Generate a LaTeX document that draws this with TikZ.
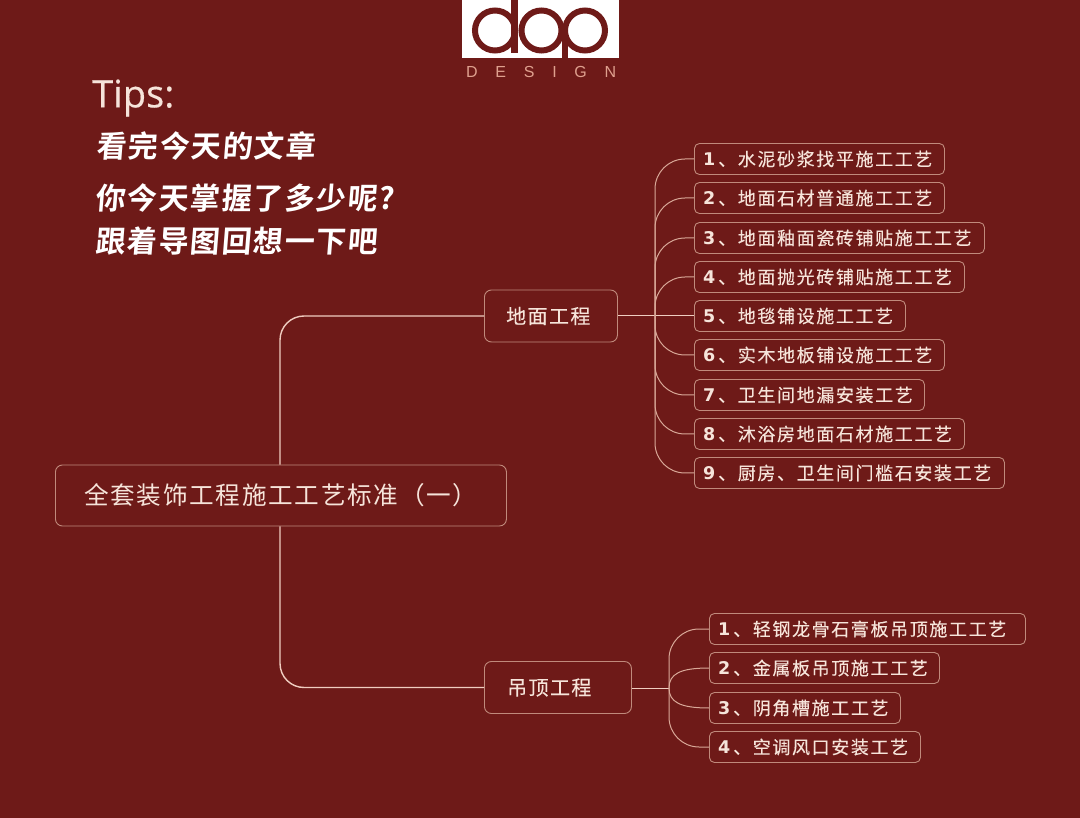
\documentclass[tikz,border=0pt]{standalone}
\usepackage{fontspec}
\setmainfont{Noto Sans CJK SC}
\newfontfamily\itemfont[LetterSpace=9,FakeBold=0.25]{Noto Sans CJK SC}
\newfontfamily\numfont{DejaVu Sans Bold}
\newfontfamily\rootfont[LetterSpace=7]{Noto Sans CJK SC}
\newfontfamily\branchfont[LetterSpace=7,FakeBold=0.15]{Noto Sans CJK SC}
\newfontfamily\brushfont[FakeSlant=0.08,LetterSpace=5]{Noto Sans CJK SC Bold}
\newfontfamily\tipfont[FakeBold=0.3]{Open Sans}
\newfontfamily\logofont{Liberation Sans}
\definecolor{bgred}{HTML}{6E1A18}
\definecolor{boxline}{HTML}{C08A7C}
\definecolor{wire}{HTML}{F0CDC0}
\definecolor{leaf}{HTML}{D9A898}
\definecolor{txt}{HTML}{F6E4DA}
\definecolor{logotext}{HTML}{DFA08E}
\newcommand{\itm}[2]{\makebox[15pt][l]{\numfont\fontsize{17.5}{20}\selectfont #1}{\itemfont 、#2}}
\tikzset{
  x=1pt,y=-1pt,
  boxbase/.style={draw=boxline,line width=0.9pt,rounded corners=5pt,inner sep=0pt,anchor=west},
  rootbox/.style={boxbase,rounded corners=7pt,minimum width=451pt,minimum height=61pt},
  branchbox/.style={boxbase,rounded corners=7pt,minimum height=52pt},
  itembox/.style={boxbase,minimum height=31pt},
  label/.style={anchor=west,inner sep=0pt,text=txt},
  wireline/.style={draw=leaf,line width=1pt},
  bigwire/.style={draw=wire,line width=1.4pt,rounded corners=24pt},
  leafwire/.style={wireline,rounded corners=30pt},
  brush/.style={anchor=west,text=white,inner sep=0pt,font=\brushfont\fontsize{30}{34}\selectfont}
}
\begin{document}
\begin{tikzpicture}
\fill[bgred] (0,0) rectangle (1080,818);
\useasboundingbox (0,0) rectangle (1080,818);
% logo
\fill[white] (462,0) rectangle (619,58);
\draw[bgred,line width=6pt] (495,30.5) circle (20);
\draw[bgred,line width=6pt] (541.5,30.5) circle (20);
\draw[bgred,line width=6pt] (585,30.5) circle (20);
\fill[bgred] (510.5,0) rectangle (518,53);
\fill[bgred] (562,30) rectangle (568,58);
\node[anchor=west,inner sep=0pt,text=logotext,font=\logofont\fontsize{16}{16}\selectfont] (logotxt) at (466,72) {\hbox to 150pt{D\hfil E\hfil S\hfil I\hfil G\hfil N}};
% tips
\node[label,font=\tipfont\fontsize{38}{44}\selectfont] (tips) at (92,98) {Tips:};
\node[brush] (b1) at (96,146) {看完今天的文章};
\node[brush] (b2) at (95,198) {你今天掌握了多少呢?};
\node[brush] (b3) at (95,241) {跟着导图回想一下吧};
% main boxes
\node[rootbox] (root) at (55,495.5) {};
\node[label,font=\rootfont\fontsize{24.6}{28}\selectfont] (roott) at (84,495.5) {全套装饰工程施工工艺标准（一）};
\node[branchbox,minimum width=133pt] (g) at (484,316) {};
\node[label,font=\branchfont\fontsize{20}{25}\selectfont] (gt) at (506,316) {地面工程};
\node[branchbox,minimum width=147pt] (c) at (484,687.5) {};
\node[label,font=\branchfont\fontsize{20}{25}\selectfont] (ct) at (507,687.5) {吊顶工程};
% ground items
\foreach \n/\yy/\w/\t in {
 1/159/250/水泥砂浆找平施工工艺,
 2/198/250/地面石材普通施工工艺,
 3/238/290/地面釉面瓷砖铺贴施工工艺,
 4/277/270/地面抛光砖铺贴施工工艺,
 5/316/211/地毯铺设施工工艺,
 6/355/250/实木地板铺设施工工艺,
 7/395/230/卫生间地漏安装工艺,
 8/434/270/沐浴房地面石材施工工艺,
 9/473/310/厨房、卫生间门槛石安装工艺}{
  \node[itembox,minimum width=\w pt] (g\n) at (694,\yy) {};
  \node[label,font=\fontsize{18}{22}\selectfont] (gt\n) at (703,\yy) {\itm{\n}{\t}};
}
% ceiling items
\foreach \n/\yy/\w/\t in {
 1/629/316/轻钢龙骨石膏板吊顶施工工艺,
 2/668/230/金属板吊顶施工工艺,
 3/708/191/阴角槽施工工艺,
 4/747/211/空调风口安装工艺}{
  \node[itembox,minimum width=\w pt] (c\n) at (709,\yy) {};
  \node[label,font=\fontsize{18}{22}\selectfont] (ct\n) at (718,\yy) {\itm{\n}{\t}};
}
% connectors
\coordinate (rt) at (280,465);
\coordinate (rb) at (280,526);
\draw[bigwire] (root.north -| rt) |- (g.west);
\draw[bigwire] (root.south -| rb) |- (c.west);
\coordinate (gj) at (655,316);
\coordinate (cj) at (669,688);
\draw[wireline,draw=wire] (g.east) -- (g5.west);
\foreach \n in {1,2,3,4,6,7,8,9}{
  \draw[leafwire] (gj) |- (g\n.west);
}
\draw[wireline,draw=wire] (c.east |- cj) -- (cj);
\foreach \n in {1,4}{
  \draw[leafwire] (cj) |- (c\n.west);
}
\draw[wireline] (cj) .. controls (669,674) and (680,668) .. (c2.west);
\draw[wireline] (cj) .. controls (669,702) and (680,708) .. (c3.west);
\end{tikzpicture}
\end{document}
